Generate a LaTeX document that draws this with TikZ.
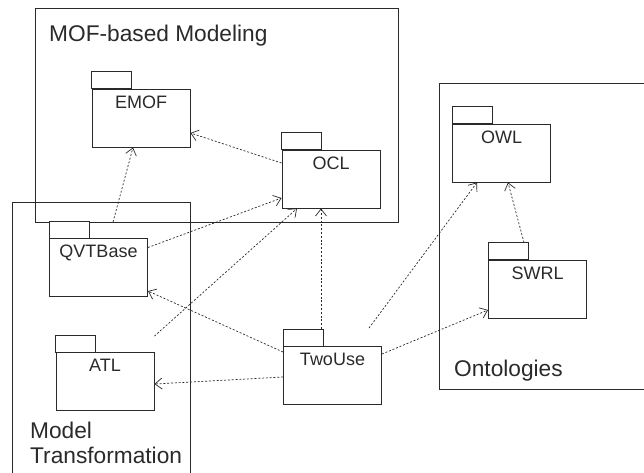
\documentclass[tikz,border=0pt]{standalone}
\usepackage{fontspec}
\setmainfont{Liberation Sans}
\usetikzlibrary{arrows.meta}
\definecolor{ln}{HTML}{2A2A2A}
\tikzset{
  grp/.style={draw=ln, line width=0.9pt},
  pkgbody/.style={draw=ln, line width=0.9pt, minimum width=98pt, minimum height=58pt, inner sep=0pt, fill=white},
  pkgtab/.style={draw=ln, line width=0.9pt, fill=white},
  pkglabel/.style={font=\fontsize{18}{20}\selectfont, text=ln, inner xsep=0pt, inner ysep=7pt, anchor=north},
  grplabel/.style={font=\fontsize{22.7}{25}\selectfont, text=ln, inner sep=0pt, align=left},
  dep/.style={draw=ln, line width=0.7pt, dash pattern=on 2pt off 1.8pt, -{Straight Barb[length=7pt,width=11pt,line width=0.7pt]}}
}
\newcommand{\pkgdraw}[4]{%
  \node[pkgbody] (#1) at (#2,#3) {};
  \draw[pkgtab] (#1.north west) rectangle ++(40,-17);
  \node[pkglabel] (#1-l) at (#1.north) {#4};
}
\begin{document}
\begin{tikzpicture}[x=1pt,y=-1pt]
\useasboundingbox (0,0) rectangle (644,472);
\clip (0,0) rectangle (644,472);
% group boxes
\draw[grp] (35,8) rectangle (398,222);
\node[grplabel, anchor=north west] (mofl) at (49,25) {MOF-based Modeling};
\draw[grp] (12,202) rectangle (190,490);
\node[grplabel, anchor=north west] (mtl) at (30,422) {Model\\Transformation};
\draw[grp] (439,83) rectangle (660,389);
\node[grplabel, anchor=north west] (ontl) at (454,360) {Ontologies};
% packages
\pkgdraw{emof}{141}{118}{EMOF}
\pkgdraw{ocl}{331}{179}{OCL}
\pkgdraw{qvt}{98.5}{267.5}{QVTBase}
\pkgdraw{atl}{105}{381.5}{ATL}
\pkgdraw{two}{332.5}{375.5}{TwoUse}
\pkgdraw{owl}{501.5}{153}{OWL}
\pkgdraw{swrl}{537.5}{289}{SWRL}
% free ends
\coordinate (qvtsrc) at ([xshift=14.5pt,yshift=16pt]qvt.north);
\coordinate (atlsrc) at ([yshift=16pt]atl.north east);
\coordinate (twosrc) at ([xshift=36.5pt,yshift=18pt]two.north);
% dependencies
\draw[dep] ([yshift=16pt]ocl.west) -- ([yshift=-15pt]emof.east);
\draw[dep] (qvtsrc) -- ([xshift=-8pt]emof.south);
\draw[dep] ([yshift=20pt]qvt.east) -- ([yshift=-19pt]ocl.west);
\draw[dep] (atlsrc) -- ([xshift=-34pt]ocl.south);
\draw[dep] ([xshift=-11.5pt,yshift=17pt]two.north) -- ([xshift=-10pt]ocl.south);
\draw[dep] ([yshift=23.5pt]two.west) -- ([yshift=-23.5pt]qvt.east);
\draw[dep] ([yshift=-1.5pt]two.west) -- ([yshift=-2.5pt]atl.east);
\draw[dep] (twosrc) -- ([xshift=-24.5pt]owl.south);
\draw[dep] ([yshift=21.5pt]two.east) -- ([yshift=-21pt]swrl.west);
\draw[dep] ([xshift=-13.5pt,yshift=17pt]swrl.north) -- ([xshift=6.5pt]owl.south);
\end{tikzpicture}
\end{document}
